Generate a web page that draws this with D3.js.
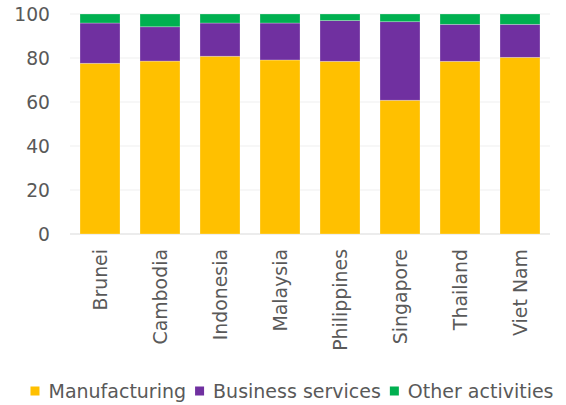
<!DOCTYPE html>
<html>
<head>
<meta charset="utf-8">
<script src="https://cdn.jsdelivr.net/npm/d3@7"></script>
<style>
  body { margin: 0; background: #fff; }
  text { font-family: "DejaVu Sans", Verdana, sans-serif; fill: #595959; }
</style>
</head>
<body>
<script>
// Data (% shares)
const categories = ['Brunei', 'Cambodia', 'Indonesia', 'Malaysia', 'Philippines', 'Singapore', 'Thailand', 'Viet Nam']
const manufacturing = [77.6, 78.6, 80.8, 79.1, 78.5, 60.8, 78.5, 80.3]
const businessServices = [18.3, 15.6, 15.1, 16.8, 18.5, 35.7, 16.8, 15.0]
const otherActivities = [4.1, 5.8, 4.1, 4.1, 3.0, 3.5, 4.7, 4.7]
const yTicks = [0, 20, 40, 60, 80, 100]

const seriesNames = ['Manufacturing', 'Business services', 'Other activities']
const colors = ['#FFC000', '#7030A0', '#00B050']

const width = 566
const height = 405
const plotLeft = 70, plotRight = 550, plotTop = 14, plotBottom = 234

const svg = d3.select('body')
  .append('svg')
  .attr('width', width)
  .attr('height', height)

const x = d3.scaleBand()
  .domain(categories)
  .range([plotLeft, plotRight])
  .paddingInner(1 / 3)
  .paddingOuter(1 / 6)

const y = d3.scaleLinear()
  .domain([0, 100])
  .range([plotBottom, plotTop])

// gridlines
svg.append('g')
  .selectAll('line')
  .data(yTicks)
  .join('line')
  .attr('x1', plotLeft)
  .attr('x2', plotRight)
  .attr('y1', d => y(d))
  .attr('y2', d => y(d))
  .attr('stroke', d => d === 0 ? '#d9d9d9' : '#efefef')
  .attr('stroke-width', 1)

// y tick labels
svg.append('g')
  .selectAll('text')
  .data(yTicks)
  .join('text')
  .attr('x', 50)
  .attr('y', d => y(d))
  .attr('dy', '0.36em')
  .attr('text-anchor', 'end')
  .style('font-size', '18.7px')
  .text(d => d)

// stacked bars
const rows = categories.map((c, i) => ({
  category: c,
  Manufacturing: manufacturing[i],
  'Business services': businessServices[i],
  'Other activities': otherActivities[i]
}))
const stacked = d3.stack().keys(seriesNames)(rows)

svg.append('g')
  .selectAll('g')
  .data(stacked)
  .join('g')
  .attr('fill', (d, i) => colors[i])
  .selectAll('rect')
  .data(d => d)
  .join('rect')
  .attr('x', d => x(d.data.category))
  .attr('width', x.bandwidth())
  .attr('y', d => y(d[1]))
  .attr('height', d => y(d[0]) - y(d[1]))
  .attr('stroke', '#ffffff')
  .attr('stroke-opacity', 0.35)
  .attr('stroke-width', 0.75)

// category labels, rotated
svg.append('g')
  .selectAll('text')
  .data(categories)
  .join('text')
  .attr('transform', d => `translate(${x(d) + x.bandwidth() / 2}, 249) rotate(-90)`)
  .attr('dy', '0.36em')
  .attr('text-anchor', 'end')
  .style('font-size', '18.9px')
  .text(d => d)

// legend
const legend = svg.append('g')
let lx = 0
seriesNames.forEach((name, i) => {
  const item = legend.append('g').attr('transform', `translate(${lx}, 0)`)
  item.append('rect')
    .attr('x', 0)
    .attr('y', -4.5)
    .attr('width', 9)
    .attr('height', 9)
    .attr('fill', colors[i])
  const t = item.append('text')
    .attr('x', 18)
    .attr('dy', '0.36em')
    .style('font-size', '19px')
    .text(name)
  lx += 18 + t.node().getComputedTextLength() + 9
})
const legendWidth = lx - 9
legend.attr('transform', `translate(${292 - legendWidth / 2}, 391)`)
</script>
</body>
</html>
